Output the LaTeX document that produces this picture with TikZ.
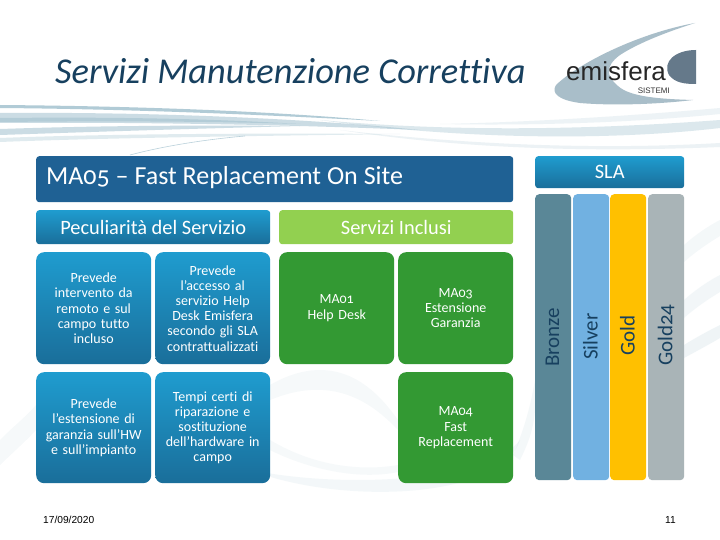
\documentclass[tikz,border=0pt]{standalone}
\usepackage{fontspec}
\setmainfont[Numbers=OldStyle,Ligatures=NoCommon]{Carlito}
\newfontfamily\arialf{Liberation Sans}
\definecolor{hdr}{HTML}{1F6194}
\definecolor{bluetop}{HTML}{1F9CCF}
\definecolor{bluebot}{HTML}{1A6E9A}
\definecolor{grn}{HTML}{339933}
\definecolor{lgrn}{HTML}{92D050}
\definecolor{txtd}{HTML}{17405F}
\definecolor{brz}{HTML}{5A8797}
\definecolor{slv}{HTML}{71B1E1}
\definecolor{gld}{HTML}{FFC000}
\definecolor{gry}{HTML}{A9B4B7}
\definecolor{wave}{HTML}{A9C6D2}
\definecolor{logoa}{HTML}{A9BEC9}
\definecolor{logob}{HTML}{65798A}
\tikzset{
  x=1pt,y=-1pt,
  bluebox/.style={rounded corners=8pt,top color=bluetop,bottom color=bluebot,text=white,align=center,inner sep=2pt,font=\fontsize{14}{15.2}\selectfont},
  greenbox/.style={rounded corners=8pt,fill=grn,text=white,align=center,inner sep=2pt,font=\fontsize{14}{15.2}\selectfont},
  slabar/.style={rounded corners=4pt,minimum width=36pt,minimum height=286pt,inner sep=0pt},
  barlabel/.style={rotate=90,anchor=west,inner sep=0pt,text=txtd,font=\fontsize{21}{23}\selectfont},
  headbox/.style={rounded corners=3pt,minimum width=234pt,minimum height=34pt,anchor=north west,text=white,font=\fontsize{20.4}{22}\selectfont,inner sep=0pt},
}
\begin{document}
\begin{tikzpicture}
\useasboundingbox (0,0) rectangle (720,540);
\fill[white] (0,0) rectangle (720,540);
% background waves
\begin{scope}
\clip (0,0) rectangle (720,540);
\fill[wave,opacity=.9] (0,105) .. controls (120,106) and (260,110) .. (380,121) .. controls (250,114) and (120,109) .. (0,108) -- cycle;
\fill[wave,opacity=.6] (0,113) .. controls (120,112) and (280,116) .. (420,130) .. controls (270,124) and (120,122) .. (0,123) -- cycle;
\fill[wave,opacity=.7] (0,118) .. controls (100,117) and (200,118) .. (300,124) .. controls (200,121) and (100,121) .. (0,122) -- cycle;
\fill[wave,opacity=.6] (0,129) .. controls (90,126) and (180,125) .. (300,126) .. controls (180,129) and (90,132) .. (0,135) -- cycle;
\fill[wave,opacity=.35] (0,138) .. controls (100,134) and (250,133) .. (400,134) .. controls (250,136) and (100,138) .. (0,142) -- cycle;
\fill[wave,opacity=.4] (320,120) .. controls (430,130) and (560,132) .. (720,120) -- (720,128) .. controls (600,142) and (450,138) .. (320,120) -- cycle;
\fill[wave,opacity=.22] (340,130) .. controls (470,145) and (600,150) .. (720,143) -- (720,147) .. controls (600,152) and (470,150) .. (340,130) -- cycle;
\fill[wave,opacity=.2] (440,124) .. controls (540,122) and (640,115) .. (720,108) -- (720,114) .. controls (640,122) and (540,126) .. (440,124) -- cycle;
\draw[wave,opacity=.8,line width=.6pt] (130,155) .. controls (160,147) and (200,140) .. (245,136);
% lower swirl
\fill[wave,opacity=.13] (250,470) .. controls (340,505) and (500,500) .. (520,440) .. controls (490,480) and (350,490) .. (250,470) -- cycle;
\fill[wave,opacity=.1] (270,385) .. controls (340,345) and (380,395) .. (398,420) -- (398,430) .. controls (370,400) and (330,375) .. (270,400) -- cycle;
\fill[wave,opacity=.1] (270,440) .. controls (320,470) and (370,470) .. (398,465) -- (398,472) .. controls (360,480) and (310,470) .. (270,450) -- cycle;
\fill[wave,opacity=.18] (684,345) .. controls (695,338) and (710,330) .. (720,325) -- (720,338) .. controls (710,344) and (695,352) .. (684,358) -- cycle;
\fill[wave,opacity=.14] (684,300) .. controls (695,290) and (710,280) .. (720,275) -- (720,292) .. controls (710,298) and (695,308) .. (684,318) -- cycle;
\fill[wave,opacity=.12] (684,245) .. controls (695,235) and (710,225) .. (720,220) -- (720,236) .. controls (710,242) and (695,252) .. (684,262) -- cycle;
\fill[wave,opacity=.12] (520,460) .. controls (530,440) and (534,425) .. (535,410) -- (535,380) .. controls (530,410) and (522,435) .. (513,455) -- cycle;
\fill[wave,opacity=.10] (0,440) .. controls (15,425) and (28,415) .. (36,405) -- (36,430) .. controls (25,442) and (10,455) .. (0,465) -- cycle;
\end{scope}
% title
\node[anchor=west,text=txtd,inner sep=0pt,font=\fontsize{36.4}{38}\selectfont\itshape] (title) at (55,71) {Servizi Manutenzione Correttiva};
% logo
\fill[logoa] (695,23) .. controls (640,33) and (580,62) .. (556,85) .. controls (551,93) and (558,100) .. (580,103) .. controls (615,106) and (660,104) .. (693,100) .. controls (660,99) and (630,97) .. (618,86) .. controls (606,76) and (605,66) .. (620,55) .. controls (640,42) and (670,31) .. (695,23) -- cycle;
\fill[logob] (696,50) .. controls (675,50) and (662,62) .. (669,75) .. controls (675,83) and (685,84) .. (696,84) -- cycle;
\node[anchor=base west,inner sep=0pt,text=black!85,font=\arialf\fontsize{26}{28}\selectfont] (logo) at (566,81) {emisfera};
\node[anchor=base east,inner sep=0pt,text=black!80,font=\arialf\fontsize{8}{9}\selectfont] (logos) at (670,94) {SISTEMI};
% headers
\node[rounded corners=3pt,fill=hdr,minimum width=477pt,minimum height=46pt,anchor=north west,inner sep=0pt] (main) at (36,156) {};
\node[anchor=west,text=white,inner sep=0pt,font=\fontsize{26}{28}\selectfont] (maint) at (46,178) {MA05 – Fast Replacement On Site};
\node[headbox,top color=bluetop,bottom color=bluebot,minimum width=149pt,minimum height=32pt] (sla) at (535,156) {SLA};
\node[headbox,top color=bluetop,bottom color=bluebot] (pec) at (36,210) {Peculiarità del Servizio};
\node[headbox,fill=lgrn] (inc) at (279,210) {Servizi Inclusi};
% blue
\node[bluebox,minimum width=115pt,minimum height=112pt,text width=111pt,anchor=north west] (b1) at (36,252) {Prevede\\intervento da\\remoto e sul\\campo tutto\\incluso};
\node[bluebox,minimum width=115pt,minimum height=112pt,text width=111pt,anchor=north west] (b2) at (155,252) {Prevede\\l’accesso al\\servizio Help\\Desk Emisfera\\secondo gli SLA\\contrattualizzati};
\node[bluebox,minimum width=115pt,minimum height=111pt,text width=111pt,anchor=north west] (b3) at (36,372) {Prevede\\l’estensione di\\garanzia sull’HW\\e sull’impianto};
\node[bluebox,minimum width=115pt,minimum height=111pt,text width=111pt,anchor=north west] (b4) at (155,372) {Tempi certi di\\riparazione e\\sostituzione\\dell’hardware in\\campo};
% green
\node[greenbox,minimum width=115pt,minimum height=112pt,text width=111pt,anchor=north west] (g1) at (279,252) {MA01\\Help Desk};
\node[greenbox,minimum width=115pt,minimum height=112pt,text width=111pt,anchor=north west] (g2) at (398,252) {MA03\\Estensione\\Garanzia};
\node[greenbox,minimum width=115pt,minimum height=111pt,text width=111pt,anchor=north west] (g3) at (398,372) {MA04\\Fast\\Replacement};
% bars
\node[slabar,fill=brz,anchor=north west] (br) at (535,194) {};
\node[slabar,fill=slv,anchor=north west] (si) at (573,194) {};
\node[slabar,fill=gld,anchor=north west] (go) at (610,194) {};
\node[slabar,fill=gry,anchor=north west] (gt) at (648,194) {};
\node[barlabel] (brl) at (552.5,367) {Bronze};
\node[barlabel] (sil) at (590.5,360) {Silver};
\node[barlabel] (gol) at (627.5,356) {Gold};
\node[barlabel] (gtl) at (666,366) {Gold24};
% footer
\node[anchor=west,inner sep=0pt,font=\arialf\fontsize{10.2}{11}\selectfont] (date) at (43,520) {17/09/2020};
\node[anchor=east,inner sep=0pt,font=\arialf\fontsize{10.2}{11}\selectfont] (pg) at (676,520) {11};
\end{tikzpicture}
\end{document}
